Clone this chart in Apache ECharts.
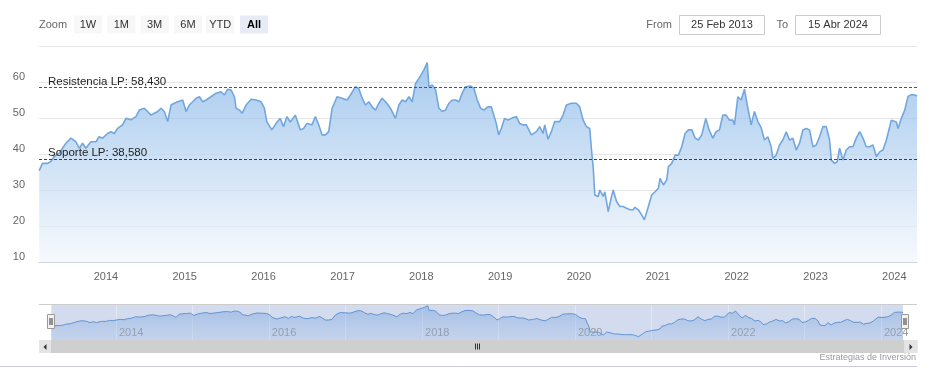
<!DOCTYPE html>
<html><head><meta charset="utf-8">
<script src="https://cdn.jsdelivr.net/npm/echarts@6/dist/echarts.min.js"></script>
<style>html,body{margin:0;padding:0;background:#fff}#c{width:930px;height:383px}</style>
</head><body><div id="c"></div><script>
// ---- data (decimal years, price) ----
const timeYears = [
2013.153,2013.195,2013.259,2013.301,2013.344,2013.407,2013.492,2013.555,2013.619,2013.661,2013.704,2013.746,2013.809,2013.873,2013.915,2013.958,
2014.021,2014.064,2014.106,2014.148,2014.212,2014.254,2014.318,2014.381,2014.424,2014.487,2014.529,2014.572,2014.614,2014.657,2014.699,2014.741,2014.784,2014.826,2014.868,2014.911,2014.974,
2015.017,2015.059,2015.101,2015.144,2015.186,2015.229,2015.271,2015.334,2015.398,2015.461,2015.504,2015.546,2015.588,2015.631,2015.652,2015.694,2015.728,2015.779,2015.843,2015.906,2015.970,
2016.012,2016.041,2016.105,2016.147,2016.211,2016.253,2016.296,2016.338,2016.402,2016.444,2016.465,2016.507,2016.550,2016.613,2016.656,2016.698,2016.741,2016.783,2016.825,2016.868,2016.931,2016.995,
2017.058,2017.101,2017.164,2017.206,2017.249,2017.291,2017.334,2017.376,2017.418,2017.461,2017.503,2017.546,2017.609,2017.672,2017.715,2017.757,2017.800,2017.842,2017.884,2017.927,2017.969,
2018.032,2018.075,2018.096,2018.138,2018.181,2018.223,2018.265,2018.307,2018.350,2018.392,2018.434,2018.477,2018.519,2018.561,2018.625,2018.668,2018.710,2018.752,2018.795,2018.845,2018.888,2018.909,2018.951,2018.981,
2019.015,2019.057,2019.100,2019.142,2019.206,2019.248,2019.290,2019.333,2019.396,2019.460,2019.502,2019.544,2019.566,2019.608,2019.650,2019.693,2019.756,2019.799,2019.841,2019.904,2019.968,
2020.010,2020.053,2020.095,2020.137,2020.159,2020.180,2020.201,2020.243,2020.265,2020.307,2020.328,2020.371,2020.413,2020.434,2020.476,2020.519,2020.561,2020.603,2020.646,2020.688,2020.709,2020.752,2020.794,2020.828,2020.879,2020.921,2020.963,
2021.006,2021.027,2021.069,2021.112,2021.133,2021.175,2021.218,2021.260,2021.302,2021.345,2021.387,2021.430,2021.472,2021.514,2021.556,2021.607,2021.649,2021.696,2021.738,2021.781,2021.823,2021.865,2021.908,2021.950,2021.971,
2022.014,2022.056,2022.098,2022.141,2022.183,2022.225,2022.268,2022.310,2022.352,2022.395,2022.437,2022.458,2022.501,2022.543,2022.585,2022.628,2022.670,2022.712,2022.755,2022.797,2022.840,2022.882,2022.924,2022.967,
2023.009,2023.051,2023.094,2023.136,2023.178,2023.200,2023.242,2023.276,2023.305,2023.348,2023.390,2023.432,2023.475,2023.517,2023.560,2023.602,2023.644,2023.687,2023.729,2023.772,2023.814,2023.856,2023.899,2023.962,
2024.026,2024.047,2024.089,2024.131,2024.174,2024.216,2024.259,2024.288
];
const prices = [
35.4,37.4,37.4,37.9,39.3,40.2,43.0,44.4,43.4,41.6,43.0,41.6,43.4,43.4,44.8,44.4,
45.7,46.2,45.7,47.1,48.1,49.9,49.5,50.4,52.2,52.7,51.8,50.8,51.3,51.8,52.7,51.8,49.0,53.6,54.1,54.5,55.0,
51.8,53.6,54.5,55.5,55.9,54.5,55.0,55.9,56.9,57.3,56.4,58.0,57.8,55.9,52.7,52.2,51.3,53.6,55.2,55.0,54.5,
52.7,49.0,46.7,48.1,49.9,47.6,50.4,48.9,50.8,48.1,46.7,47.1,48.5,48.1,50.4,48.1,45.3,45.3,46.2,52.7,55.9,55.5,
55.0,56.4,58.7,58.2,55.5,53.6,54.5,53.1,52.2,54.1,55.5,54.5,52.7,49.9,53.6,55.0,54.5,55.9,54.5,59.6,61.0,
63.3,65.4,58.7,59.2,57.8,52.7,51.8,52.2,54.1,55.0,55.0,54.5,56.9,58.7,58.9,58.2,55.0,52.7,52.2,53.1,53.1,53.6,48.5,45.3,
47.1,49.9,49.4,49.9,50.4,48.5,48.1,48.1,45.3,46.2,47.6,45.7,48.1,44.1,46.2,49.0,49.0,50.8,53.6,54.1,54.1,
53.1,49.4,47.6,47.1,41.1,36.5,28.6,28.2,30.0,28.2,29.5,24.0,28.2,30.0,26.8,25.4,25.4,24.9,24.5,24.5,25.2,24.5,23.1,21.7,25.4,28.6,29.5,
30.5,33.2,31.4,32.8,36.5,37.4,39.7,39.7,42.0,45.7,46.7,46.7,44.4,43.9,45.3,49.9,46.7,44.4,46.2,46.7,50.8,50.8,49.4,49.4,48.1,
55.9,55.0,58.0,52.7,48.1,51.8,49.0,47.3,43.9,44.8,42.0,38.8,39.7,42.5,43.9,46.2,43.9,44.4,41.1,43.0,46.7,47.1,46.7,42.0,
42.5,44.8,47.6,47.6,43.9,38.3,37.4,37.9,41.6,38.3,41.1,42.0,42.0,44.4,46.2,44.4,42.0,42.0,42.5,39.3,40.6,41.1,43.9,49.4,
48.9,47.1,49.9,52.2,56.0,56.5,56.4,56.1
];
const resistance = 58.43;
const support = 38.58;
const yTicks = [10, 20, 30, 40, 50, 60, 70];
const zoomButtons = ['1W', '1M', '3M', '6M', 'YTD', 'All'];
const fromLabel = '25 Feb 2013';
const toLabel = '15 Abr 2024';
const credits = 'Estrategias de Inversión';

// ---- helpers ----
const FONT = '"Lucida Grande","Lucida Sans Unicode","Liberation Sans",Arial,sans-serif';
function yearToTime(y) {
  const Y = Math.floor(y);
  const a = new Date(Y, 0, 1).getTime(), b = new Date(Y + 1, 0, 1).getTime();
  return a + (y - Y) * (b - a);
}
const seriesData = timeYears.map((t, i) => [yearToTime(t), prices[i]]);
const START = new Date(2013, 1, 25).getTime();
const END = new Date(2024, 3, 15).getTime();
const YEAR = 365.25 * 86400000;
function isJan1(v) { const d = new Date(v); return d.getMonth() === 0 && d.getDate() === 1 && d.getHours() === 0; }
const yearFmt = v => isJan1(v) ? String(new Date(v).getFullYear()) : '';
const yearFmtEven = v => (isJan1(v) && new Date(v).getFullYear() % 2 === 0) ? String(new Date(v).getFullYear()) : '';
const fmtNum = v => v.toFixed(3).replace('.', ',');

// ---- graphics: toolbar, inputs, navigator decorations ----
const g = [];
g.push({type:'text', x: 39, y: 24.5, style:{text:'Zoom', fill:'#666', font:'11px ' + FONT, align:'left', verticalAlign:'middle'}});
const bx = [74, 107.3, 140.6, 173.9, 206.2, 240];
zoomButtons.forEach((b, i) => {
  const sel = b === 'All';
  g.push({type:'rect', shape:{x:bx[i], y:15.5, width:28, height:18, r:0}, style:{fill: sel ? '#e6ebf5' : '#f7f7f7'}});
  g.push({type:'text', x: bx[i] + 14, y: 24.5, style:{text:b, fill: sel ? '#000' : '#333', font:(sel ? 'bold ' : '') + '11px ' + FONT, align:'center', verticalAlign:'middle'}});
});
g.push({type:'text', x: 672, y: 24.5, style:{text:'From', fill:'#666', font:'11px ' + FONT, align:'right', verticalAlign:'middle'}});
g.push({type:'rect', shape:{x:679.5, y:15.5, width:85, height:19}, style:{fill:'#fff', stroke:'#cccccc', lineWidth:1}});
g.push({type:'text', x: 722, y: 25, style:{text:fromLabel, fill:'#333', font:'11px ' + FONT, align:'center', verticalAlign:'middle'}});
g.push({type:'text', x: 788, y: 24.5, style:{text:'To', fill:'#666', font:'11px ' + FONT, align:'right', verticalAlign:'middle'}});
g.push({type:'rect', shape:{x:795.5, y:15.5, width:85, height:19}, style:{fill:'#fff', stroke:'#cccccc', lineWidth:1}});
g.push({type:'text', x: 838, y: 25, style:{text:toLabel, fill:'#333', font:'11px ' + FONT, align:'center', verticalAlign:'middle'}});
// navigator outline
g.push({type:'line', shape:{x1:39, y1:304.5, x2:917, y2:304.5}, style:{stroke:'#cccccc', lineWidth:1}, z:10});
// scrollbar
g.push({type:'rect', shape:{x:39, y:340, width:879, height:13}, style:{fill:'#f2f2f2'}, z:10});
g.push({type:'rect', shape:{x:50.5, y:340, width:854, height:13}, style:{fill:'#cfcfcf'}, z:10});
g.push({type:'rect', shape:{x:39, y:340, width:11.5, height:13}, style:{fill:'#e4e4e4'}, z:10});
g.push({type:'rect', shape:{x:904.5, y:340, width:13, height:13}, style:{fill:'#e4e4e4'}, z:10});
g.push({type:'polygon', shape:{points:[[46.5,344],[46.5,350],[43.5,347]]}, style:{fill:'#333'}, z:11});
g.push({type:'polygon', shape:{points:[[909.5,344],[909.5,350],[912.5,347]]}, style:{fill:'#333'}, z:11});
[475.5, 477.5, 479.5].forEach(x => g.push({type:'line', shape:{x1:x, y1:343.5, x2:x, y2:349.5}, style:{stroke:'#333', lineWidth:1}, z:11}));
// navigator handles
[47.5, 901.5].forEach(x => {
  g.push({type:'rect', shape:{x:x, y:314.5, width:7, height:14}, style:{fill:'#f2f2f2', stroke:'#999', lineWidth:1}, z:12});
  g.push({type:'line', shape:{x1:x+2.5, y1:318, x2:x+2.5, y2:325}, style:{stroke:'#333', lineWidth:1}, z:13});
  g.push({type:'line', shape:{x1:x+4.5, y1:318, x2:x+4.5, y2:325}, style:{stroke:'#333', lineWidth:1}, z:13});
});
// credits and bottom border
g.push({type:'text', x: 916, y: 358, style:{text:credits, fill:'#999', font:'9px ' + FONT, align:'right', verticalAlign:'middle'}});
g.push({type:'line', shape:{x1:0, y1:366.5, x2:917, y2:366.5}, style:{stroke:'#ccccdd', lineWidth:1}});

const chart = echarts.init(document.getElementById('c'), null, {renderer:'canvas'});
chart.setOption({
  animation: false,
  backgroundColor: '#fff',
  textStyle: {fontFamily: FONT},
  grid: [
    {left: 39, top: 46, width: 878, height: 216, containLabel: false, outerBoundsMode: 'none'},
    {left: 51, top: 304, width: 852, height: 36, containLabel: false, outerBoundsMode: 'none', show: true, backgroundColor: '#d3dbee', borderWidth: 0}
  ],
  xAxis: [
    {gridIndex: 0, type: 'time', min: START, max: END, minInterval: YEAR * 0.99, maxInterval: YEAR * 1.01,
     axisLine: {lineStyle: {color: '#ccd6eb'}}, axisTick: {show: false}, splitLine: {show: false},
     axisLabel: {formatter: yearFmt, color: '#666', fontSize: 11, margin: 9, fontFamily: FONT}},
    {gridIndex: 1, type: 'time', min: START, max: END, minInterval: YEAR * 0.99, maxInterval: YEAR * 1.01,
     axisLine: {show: false}, axisTick: {show: false},
     splitLine: {show: true, lineStyle: {color: 'rgba(255,255,255,0.35)'}},
     axisLabel: {formatter: yearFmtEven, color: '#999', fontSize: 11, inside: true, margin: 2, align: 'left', verticalAlign: 'bottom', padding: [0,0,0,3], fontFamily: FONT}}
  ],
  yAxis: [
    {gridIndex: 0, type: 'value', min: yTicks[0], max: yTicks[yTicks.length-1], interval: 10,
     axisLine: {show: false}, axisTick: {show: false},
     splitLine: {lineStyle: {color: '#e6e6e6'}},
     axisLabel: {formatter: v => v === yTicks[yTicks.length-1] ? '' : String(v), color: '#666', fontSize: 11, margin: 14, verticalAlign: 'bottom', fontFamily: FONT}},
    {gridIndex: 1, type: 'value', min: 17, max: 68, show: false, splitLine: {show: false}}
  ],
  series: [
    {type: 'line', xAxisIndex: 0, yAxisIndex: 0, data: seriesData, showSymbol: false, symbol: 'none',
     lineStyle: {color: '#72a7de', width: 1.6}, itemStyle: {color: '#72a7de'},
     areaStyle: {color: new echarts.graphic.LinearGradient(0, 0, 0, 1, [
       {offset: 0, color: '#81b3e7'}, {offset: 1, color: '#f3f7fc'}])},
     markLine: {silent: true, symbol: 'none', animation: false,
       label: {position: 'insideStartTop', distance: [9, 0], color: '#222', fontSize: 11.5, fontFamily: FONT},
       data: [
         {yAxis: resistance, lineStyle: {color: '#2f6b2f', type: [3, 2], width: 1}, label: {formatter: 'Resistencia LP: ' + fmtNum(resistance)}},
         {yAxis: support, lineStyle: {color: '#8b1a3a', type: [3, 2], width: 1}, label: {formatter: 'Soporte LP: ' + fmtNum(support)}}
       ]}},
    {type: 'line', xAxisIndex: 1, yAxisIndex: 1, data: seriesData, showSymbol: false, symbol: 'none',
     lineStyle: {color: '#6293d3', width: 1}, itemStyle: {color: '#6293d3'},
     areaStyle: {color: new echarts.graphic.LinearGradient(0, 0, 0, 1, [
       {offset: 0, color: 'rgba(98,150,215,0.6)'}, {offset: 1, color: 'rgba(150,185,232,0.35)'}])}}
  ],
  graphic: g
});
</script></body></html>
